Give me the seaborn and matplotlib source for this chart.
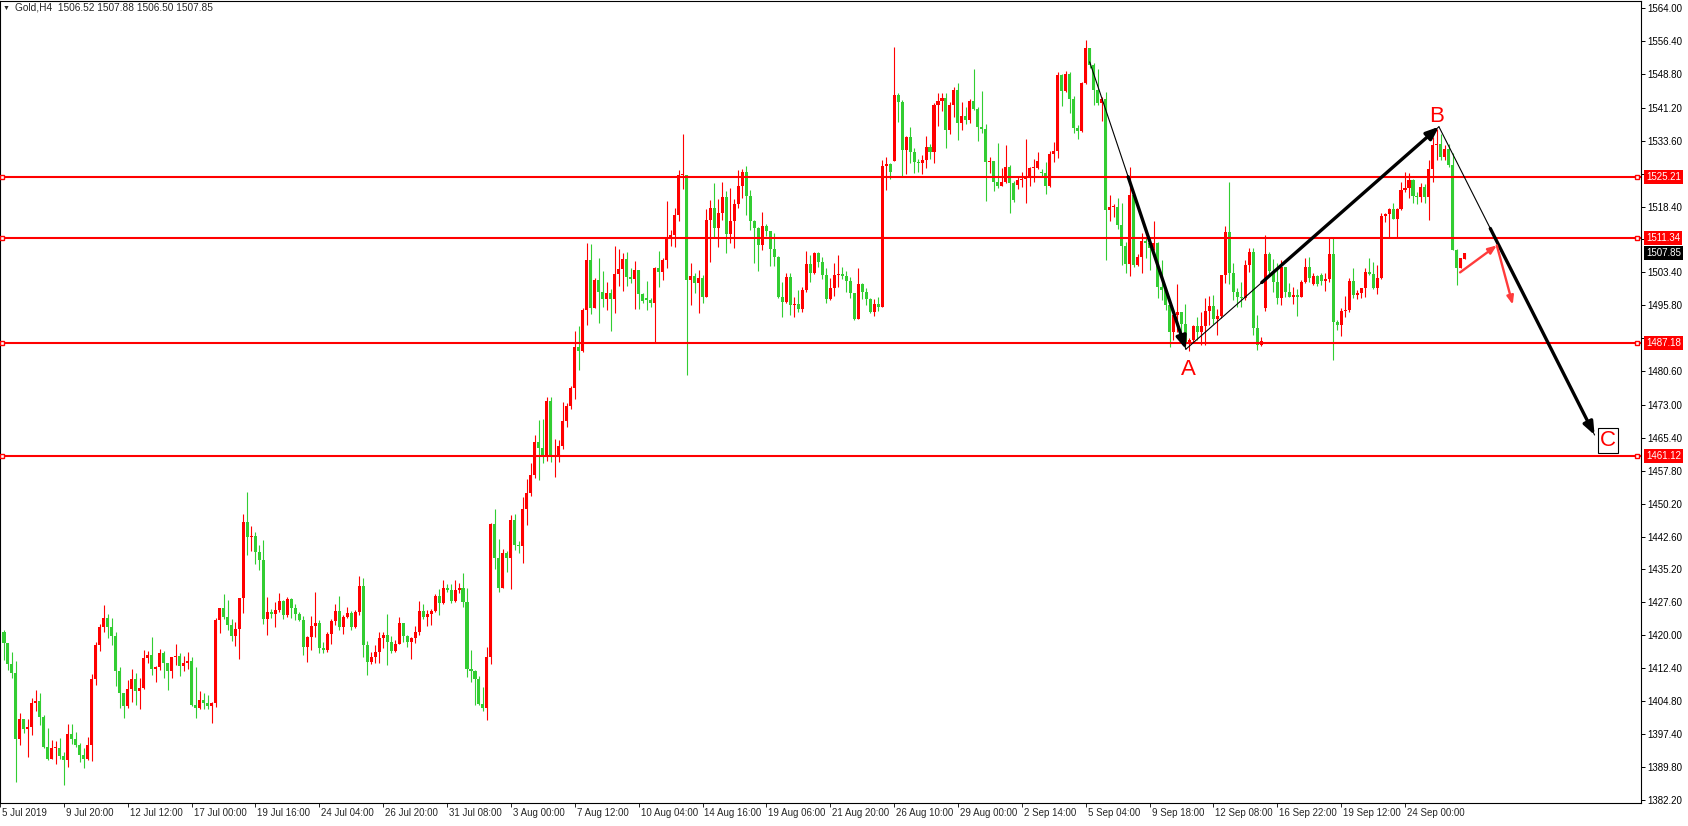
import numpy as np
import pandas as pd
import matplotlib
matplotlib.use("Agg")
import matplotlib.pyplot as plt
import matplotlib.transforms as mtrans
import seaborn as sns

sns.set_style("white")
plt.rcParams['font.family'] = ['Liberation Sans', 'DejaVu Sans']

# Gold H4 candles, oldest first
first_open = 1420.8
closes = [
    # 5 Jul - 12 Jul
    1418.15, 1413.4, 1411.4, 1396.2, 1400.8, 1398.5, 1399.0, 1404.5, 1404.9, 1401.3,
    1394.4, 1391.6, 1394.2, 1394.2, 1392.35, 1391.35, 1397.3, 1396.2, 1394.8, 1392.6,
    1391.6, 1394.8, 1410.0, 1417.8, 1422.0, 1423.9, 1422.0, 1419.8, 1411.9, 1406.7,
    1403.8, 1407.7, 1410.0, 1407.3, 1407.8,
    # 12 Jul - 19 Jul
    1414.7, 1415.5, 1412.2, 1412.8, 1416.0, 1413.6, 1411.9, 1414.9, 1415.2, 1413.0,
    1413.6, 1414.1, 1404.0, 1403.4, 1405.1, 1404.5, 1403.75, 1404.5, 1423.5, 1426.3,
    1424.3, 1422.4, 1419.9, 1421.4, 1428.5, 1446.1, 1442.65, 1442.8, 1439.2, 1437.3,
    1423.7, 1425.3, 1424.9,
    # 19 Jul - 26 Jul
    1425.8, 1427.9, 1424.7, 1428.3, 1426.2, 1424.9, 1423.5, 1417.4, 1419.7, 1422.1,
    1422.8, 1417.15, 1416.6, 1420.3, 1423.3, 1425.6, 1422.0, 1424.3, 1425.1, 1421.9,
    1425.3, 1431.3, 1417.8, 1413.9, 1414.9, 1416.1, 1419.3, 1420.0, 1418.5, 1416.4,
    1418.1, 1422.9,
    # 26 Jul - 3 Aug
    1419.8, 1418.5, 1419.4, 1420.8, 1425.5, 1424.2, 1424.9, 1425.6, 1429.0, 1427.5,
    1430.8, 1430.4, 1427.9, 1430.4, 1430.8, 1427.7, 1412.3, 1411.9, 1409.95, 1404.2,
    1403.2, 1415.1, 1445.5, 1437.8, 1430.9, 1439.0, 1437.8, 1446.4, 1440.7, 1440.6,
    1449.0, 1452.6, 1456.8,
    # 3 Aug - 10 Aug
    1464.5, 1463.1, 1461.0, 1473.8, 1461.0, 1461.4, 1463.5, 1469.2, 1472.7, 1476.9,
    1486.3, 1485.2, 1494.7, 1506.3, 1495.2, 1501.6, 1498.9, 1497.2, 1498.7, 1497.2,
    1503.0, 1504.1, 1506.4, 1502.2, 1501.8, 1503.9, 1498.3, 1496.8, 1497.0, 1496.4,
    1504.4, 1503.5,
    # 10 Aug - 19 Aug
    1506.2, 1511.55, 1511.9, 1516.5, 1525.7, 1525.7, 1501.6, 1502.5, 1500.8, 1502.0,
    1497.8, 1515.4, 1518.05, 1513.6, 1516.9, 1520.6, 1512.2, 1515.15, 1519.05, 1523.2,
    1526.35, 1520.95, 1515.2, 1513.6, 1509.6, 1514.0, 1512.85, 1508.7, 1506.95, 1497.8,
    1496.6, 1502.2, 1495.85,
    # 19 Aug - 26 Aug
    1496.1, 1494.9, 1499.3, 1505.3, 1503.3, 1507.9, 1505.8, 1502.7, 1497.15, 1499.8,
    1502.7, 1503.0, 1502.5, 1501.4, 1498.5, 1492.6, 1500.7, 1498.9, 1497.2, 1494.3,
    1496.1, 1495.5, 1527.8, 1528.2, 1526.5, 1544.1, 1542.5, 1531.45, 1534.5, 1530.9,
    1528.8, 1528.55,
    # 26 Aug - 2 Sep
    1529.2, 1532.1, 1531.1, 1541.9, 1542.7, 1543.5, 1536.0, 1541.8, 1545.2, 1537.7,
    1539.25, 1538.3, 1542.7, 1540.85, 1536.8, 1536.3, 1528.6, 1528.9, 1524.2, 1523.3,
    1524.2, 1527.6, 1523.95, 1520.0, 1524.6, 1524.8, 1525.3, 1527.25, 1527.25, 1528.9,
    1526.1, 1523.25, 1530.5,
    # 2 Sep - 9 Sep
    1531.2, 1548.7, 1545.0, 1548.8, 1543.1, 1536.6, 1535.9, 1546.8, 1554.8, 1551.0,
    1545.2, 1542.2, 1543.1, 1517.7, 1518.3, 1518.4, 1514.2, 1509.4, 1505.3, 1521.1,
    1505.0, 1506.8, 1510.5, 1510.0, 1508.9, 1510.0, 1500.0, 1499.3, 1495.8, 1489.7,
    1493.5,
    # 9 Sep - 17 Sep
    1494.3, 1491.5, 1487.4, 1487.8, 1491.0, 1489.7, 1491.0, 1494.5, 1495.6, 1492.7,
    1493.3, 1502.75, 1512.7, 1503.1, 1498.9, 1497.8, 1497.4, 1505.06, 1507.95, 1490.5,
    1486.7, 1487.66, 1507.5, 1503.7, 1501.2, 1497.4, 1504.66, 1498.9, 1497.8, 1498.2,
    1497.8, 1501.2, 1504.66, 1501.96,
    # 17 Sep - 26 Sep
    1502.5, 1500.6, 1501.4, 1501.75, 1507.6, 1492.0, 1491.3, 1494.5, 1494.7, 1501.4,
    1498.2, 1498.7, 1499.7, 1503.5, 1502.9, 1499.7, 1502.0, 1516.4, 1516.8, 1517.8,
    1515.6, 1517.9, 1522.3, 1522.65, 1524.6, 1520.96, 1520.7, 1523.0, 1520.7, 1527.1,
    1532.6, 1532.8, 1529.9, 1531.8, 1528.0, 1508.5, 1504.4, 1506.6, 1507.85,
]
highs = [
    1421.2, 1418.3, 1416.2, 1414.2, 1402.2, 1400.8, 1400.8, 1405.5, 1407.4, 1406.8,
    1401.7, 1398.8, 1395.9, 1395.8, 1396.5, 1393.3, 1399.6, 1399.6, 1397.9, 1395.2,
    1394.2, 1396.7, 1411.1, 1418.5, 1422.5, 1427.0, 1424.9, 1423.9, 1420.8, 1412.8,
    1406.8, 1409.7, 1412.2, 1411.3, 1410.2,
    1416.6, 1416.5, 1419.7, 1412.9, 1416.8, 1416.4, 1413.6, 1415.1, 1418.0, 1415.85,
    1415.3, 1416.1, 1414.9, 1412.8, 1407.2, 1406.8, 1406.3, 1404.6, 1424.0, 1426.3,
    1429.5, 1428.1, 1423.7, 1423.0, 1428.6, 1447.9, 1452.8, 1445.1, 1443.8, 1440.7,
    1441.9, 1428.7, 1426.0,
    1427.6, 1429.6, 1428.1, 1428.9, 1428.6, 1427.3, 1425.3, 1424.5, 1419.8, 1424.4,
    1429.9, 1423.5, 1418.4, 1420.7, 1423.7, 1427.2, 1429.0, 1424.7, 1426.6, 1425.6,
    1425.8, 1433.6, 1433.2, 1418.7, 1416.2, 1417.8, 1420.7, 1420.7, 1424.9, 1419.8,
    1418.9, 1424.2,
    1422.9, 1420.0, 1419.7, 1422.1, 1427.9, 1427.1, 1425.8, 1426.0, 1429.5, 1430.6,
    1432.8, 1431.7, 1431.8, 1432.7, 1431.9, 1434.4, 1430.8, 1416.6, 1412.0, 1410.6,
    1408.2, 1417.35, 1445.8, 1449.0, 1442.1, 1439.9, 1439.3, 1447.6, 1447.85, 1441.6,
    1451.8, 1455.8, 1459.5,
    1466.0, 1469.5, 1469.7, 1474.8, 1474.8, 1465.1, 1464.8, 1473.5, 1473.4, 1477.3,
    1489.9, 1491.0, 1495.1, 1510.2, 1509.9, 1502.0, 1506.7, 1503.7, 1501.1, 1499.5,
    1509.4, 1508.7, 1507.7, 1508.1, 1504.4, 1506.0, 1503.9, 1498.7, 1501.4, 1497.5,
    1504.7, 1508.3,
    1506.7, 1519.75, 1513.05, 1518.05, 1526.85, 1535.1, 1525.7, 1505.4, 1503.3, 1503.9,
    1502.7, 1517.9, 1519.95, 1523.8, 1520.2, 1524.1, 1522.0, 1522.65, 1520.2, 1526.85,
    1527.1, 1527.8, 1522.3, 1515.4, 1513.85, 1517.15, 1514.5, 1512.85, 1512.5, 1507.1,
    1501.05, 1503.1, 1503.1,
    1497.8, 1499.4, 1500.0, 1508.3, 1507.3, 1508.1, 1508.1, 1506.8, 1504.4, 1502.0,
    1505.6, 1507.3, 1504.5, 1503.7, 1502.2, 1498.7, 1504.4, 1500.8, 1499.7, 1497.5,
    1497.15, 1497.8, 1529.1, 1529.8, 1528.5, 1555.2, 1544.6, 1542.9, 1534.7, 1536.8,
    1532.0, 1529.3,
    1530.3, 1534.7, 1532.75, 1542.3, 1544.6, 1544.5, 1544.6, 1542.55, 1546.0, 1546.8,
    1542.55, 1541.4, 1543.1, 1550.1, 1541.4, 1545.0, 1537.35, 1529.9, 1528.9, 1533.1,
    1527.4, 1532.6, 1528.0, 1524.3, 1525.5, 1526.5, 1534.0, 1527.6, 1529.4, 1531.1,
    1527.1, 1528.8, 1531.3,
    1533.4, 1549.45, 1548.8, 1549.7, 1549.3, 1543.9, 1537.2, 1547.0, 1556.7, 1554.8,
    1551.4, 1550.0, 1543.7, 1544.8, 1521.1, 1519.0, 1520.35, 1519.35, 1510.4, 1527.5,
    1521.1, 1507.5, 1512.5, 1511.5, 1511.5, 1515.1, 1510.4, 1506.3, 1499.4, 1496.05,
    1493.9,
    1500.7, 1494.3, 1496.2, 1488.2, 1491.3, 1493.2, 1494.3, 1497.4, 1497.9, 1498.1,
    1494.85, 1502.75, 1514.0, 1524.2, 1505.4, 1499.7, 1501.2, 1506.2, 1508.9, 1508.9,
    1493.55, 1488.4, 1511.9, 1508.1, 1506.4, 1505.4, 1506.2, 1504.5, 1501.0, 1500.06,
    1499.45, 1501.6, 1506.6, 1506.95,
    1503.1, 1502.7, 1503.3, 1503.1, 1511.55, 1511.55, 1492.4, 1495.1, 1498.0, 1502.0,
    1504.3, 1499.3, 1499.8, 1504.3, 1506.7, 1505.8, 1505.0, 1516.9, 1516.9, 1518.1,
    1519.4, 1518.1, 1524.0, 1526.5, 1526.1, 1524.8, 1521.9, 1523.8, 1523.6, 1529.2,
    1534.5, 1536.3, 1535.1, 1532.6, 1532.8, 1530.7, 1508.7, 1506.7, 1507.88,
]
lows = [
    1414.3, 1412.0, 1410.1, 1386.4, 1394.8, 1397.5, 1392.1, 1397.1, 1402.5, 1399.4,
    1394.0, 1391.35, 1391.6, 1390.4, 1391.7, 1385.6, 1389.8, 1395.0, 1394.4, 1391.0,
    1389.6, 1391.35, 1391.2, 1408.6, 1416.5, 1420.8, 1419.3, 1417.8, 1408.4, 1403.4,
    1400.9, 1403.4, 1404.75, 1404.1, 1403.0,
    1407.65, 1413.7, 1410.9, 1409.3, 1412.0, 1410.3, 1407.4, 1410.3, 1413.2, 1410.7,
    1411.9, 1412.2, 1403.75, 1400.9, 1403.1, 1403.1, 1403.1, 1399.9, 1403.6, 1420.6,
    1423.7, 1421.2, 1418.7, 1417.5, 1414.5, 1425.2, 1438.4, 1439.4, 1436.4, 1435.0,
    1422.7, 1420.1, 1423.9,
    1422.0, 1425.3, 1423.7, 1424.3, 1424.0, 1423.5, 1423.35, 1415.5, 1413.9, 1416.6,
    1419.7, 1416.0, 1416.0, 1416.2, 1418.0, 1422.4, 1421.2, 1420.2, 1423.9, 1421.2,
    1421.6, 1424.7, 1415.1, 1410.9, 1413.3, 1413.55, 1413.7, 1417.0, 1413.2, 1415.85,
    1416.1, 1418.0,
    1418.5, 1417.4, 1414.5, 1418.3, 1420.0, 1423.7, 1422.1, 1422.35, 1425.3, 1424.6,
    1427.2, 1430.0, 1427.5, 1427.7, 1429.8, 1426.6, 1410.5, 1409.3, 1404.0, 1404.0,
    1402.7, 1400.5, 1413.4, 1435.2, 1430.0, 1430.8, 1434.6, 1430.6, 1439.6, 1439.0,
    1436.7, 1445.3, 1452.0,
    1456.1, 1455.7, 1459.6, 1460.1, 1459.9, 1456.4, 1459.9, 1462.7, 1467.9, 1472.0,
    1474.3, 1480.9, 1485.0, 1491.2, 1493.8, 1495.1, 1491.8, 1495.3, 1494.7, 1490.0,
    1494.1, 1500.2, 1499.1, 1500.3, 1501.0, 1494.9, 1494.9, 1496.4, 1494.6, 1495.5,
    1487.4, 1500.1,
    1501.6, 1504.4, 1509.4, 1509.25, 1515.15, 1522.5, 1479.8, 1495.85, 1498.7, 1494.1,
    1496.4, 1497.6, 1505.8, 1511.55, 1509.25, 1515.4, 1507.9, 1510.2, 1509.0, 1518.05,
    1520.5, 1516.5, 1513.05, 1505.6, 1503.7, 1508.6, 1511.8, 1504.9, 1504.9, 1497.4,
    1493.2, 1496.4, 1493.55,
    1493.0, 1494.3, 1494.3, 1498.9, 1501.2, 1503.0, 1504.7, 1501.75, 1496.4, 1497.0,
    1498.0, 1500.1, 1501.75, 1498.9, 1497.4, 1492.4, 1492.6, 1497.2, 1495.8, 1494.1,
    1493.4, 1494.55, 1495.5, 1522.3, 1524.8, 1529.0, 1537.95, 1525.2, 1525.9, 1528.5,
    1526.1, 1526.5,
    1525.9, 1527.4, 1529.4, 1528.4, 1537.0, 1540.5, 1532.0, 1535.1, 1539.1, 1533.75,
    1536.0, 1537.4, 1537.7, 1540.6, 1533.5, 1535.4, 1519.8, 1526.2, 1522.0, 1522.8,
    1523.2, 1523.8, 1516.9, 1519.6, 1522.6, 1523.0, 1519.35, 1523.3, 1524.2, 1527.1,
    1525.3, 1521.3, 1523.0,
    1528.8, 1529.7, 1541.6, 1544.7, 1540.0, 1535.3, 1533.9, 1535.7, 1546.6, 1550.4,
    1541.8, 1541.8, 1538.2, 1506.3, 1515.2, 1516.1, 1513.2, 1505.0, 1503.3, 1502.6,
    1504.5, 1504.8, 1503.1, 1506.6, 1504.0, 1508.6, 1497.4, 1497.0, 1494.7, 1486.1,
    1487.8,
    1489.7, 1489.3, 1486.3, 1485.4, 1487.2, 1487.8, 1486.7, 1486.7, 1491.3, 1491.5,
    1488.96, 1492.8, 1500.8, 1500.7, 1497.0, 1495.5, 1495.5, 1497.0, 1503.35, 1489.0,
    1485.5, 1486.4, 1494.55, 1502.6, 1498.9, 1496.1, 1495.85, 1497.8, 1497.6, 1496.2,
    1493.3, 1497.6, 1500.8, 1501.05,
    1500.4, 1500.3, 1500.4, 1499.15, 1501.2, 1483.2, 1490.1, 1488.8, 1493.2, 1494.3,
    1497.4, 1497.2, 1497.4, 1497.8, 1502.7, 1499.5, 1498.4, 1501.8, 1515.0, 1511.2,
    1515.6, 1511.55, 1517.7, 1521.9, 1520.35, 1519.2, 1518.97, 1519.6, 1519.2, 1515.4,
    1524.2, 1529.2, 1529.2, 1529.2, 1527.6, 1508.5, 1500.45, 1504.3, 1506.5,
]
# bars whose open is not the previous close (bar index -> open)
gap_opens = {161: 1497.5, 223: 1529.0, 254: 1523.4, 260: 1526.4, 316: 1495.1,
             328: 1500.7, 330: 1502.7, 366: 1506.52}

levels = [1525.21, 1511.34, 1487.18, 1461.12]
last_price = 1507.85
header = "Gold,H4  1506.52 1507.88 1506.50 1507.85"

# scale ticks; the ones under the level tags carry no visible label
ytick_values = [1564.00, 1556.40, 1548.80, 1541.20, 1533.60, 1526.00, 1518.40,
                1511.00, 1503.40, 1495.80, 1488.20, 1480.60, 1473.00, 1465.40,
                1457.80, 1450.20, 1442.60, 1435.20, 1427.60, 1420.00, 1412.40,
                1404.80, 1397.40, 1389.80, 1382.20]
ytick_hidden = [1526.00, 1511.00, 1488.20]
xtick_labels = ["5 Jul 2019", "9 Jul 20:00", "12 Jul 12:00", "17 Jul 00:00",
                "19 Jul 16:00", "24 Jul 04:00", "26 Jul 20:00", "31 Jul 08:00",
                "3 Aug 00:00", "7 Aug 12:00", "10 Aug 04:00", "14 Aug 16:00",
                "19 Aug 06:00", "21 Aug 20:00", "26 Aug 10:00", "29 Aug 00:00",
                "2 Sep 14:00", "5 Sep 04:00", "9 Sep 18:00", "12 Sep 08:00",
                "16 Sep 22:00", "19 Sep 12:00", "24 Sep 00:00"]

# ABC wave drawn on the chart (bar index, price)
wave_P = (272.0, 1551.7)
wave_A = (296.1, 1485.7)
wave_B = (359.5, 1536.8)
wave_C = (398.5, 1466.0)
red_path = [(364.8, 1503.35), (374.0, 1509.55), (378.0, 1495.95)]
label_pos = {"A": (296.75, 1481.15), "B": (358.95, 1539.1), "C": (401.9, 1464.7)}

assert len(closes) == len(highs) == len(lows)

df = pd.DataFrame({"close": closes, "high": highs, "low": lows})
df["open"] = df["close"].shift(1).fillna(first_open)
for i, o in gap_opens.items():
    df.loc[i, "open"] = o
df["up"] = df["close"] >= df["open"]

RED = "#FF0000"
GREEN = "#32CD32"

fig = plt.figure(figsize=(16.88, 8.26), dpi=100)
ax = fig.add_axes([0, 23 / 826, 1641 / 1688, 802 / 826])

x = np.arange(len(df))
colors = np.where(df["up"], RED, GREEN)
ax.vlines(x, df["low"], df["high"], colors=colors, lw=0.8, zorder=2)
body_lo = np.minimum(df["open"], df["close"])
body_h = np.maximum((df["close"] - df["open"]).abs(), 0.22)
ax.bar(x, body_h, bottom=body_lo, width=0.76, color=colors, linewidth=0, zorder=2)

trans_y = mtrans.blended_transform_factory(ax.transAxes, ax.transData)
trans_x = mtrans.blended_transform_factory(ax.transData, ax.transAxes)

# support / resistance lines
for lv in levels:
    ax.axhline(lv, color=RED, lw=1.5, zorder=3)
    ax.plot([0.0015, 0.9976], [lv, lv], ls="none", marker="s", ms=3.5, mfc="white",
            mec=RED, mew=1, transform=trans_y, clip_on=False, zorder=4)
    ax.text(1.0031, lv, f"{lv:.2f}", transform=trans_y, ha="left", va="center",
            color="white", fontsize=7, zorder=10,
            bbox=dict(boxstyle="square,pad=0.2", fc=RED, ec="none"))
ax.text(1.0031, last_price, f"{last_price:.2f}", transform=trans_y, ha="left",
        va="center", color="white", fontsize=7, zorder=10,
        bbox=dict(boxstyle="square,pad=0.2", fc="black", ec="none"))


def along(p, q, t):
    return (p[0] + (q[0] - p[0]) * t, p[1] + (q[1] - p[1]) * t)


thick = dict(arrowstyle="-|>,head_length=0.75,head_width=0.3", color="black",
             lw=2.4, shrinkA=0, shrinkB=0)
for p, q, t in [(wave_P, wave_A, 0.4), (wave_A, wave_B, 0.3), (wave_B, wave_C, 0.33)]:
    ax.plot([p[0], q[0]], [p[1], q[1]], color="black", lw=0.8, zorder=5)
    ax.annotate("", xy=q, xytext=along(p, q, t), arrowprops=thick, zorder=6)

thin_red = dict(arrowstyle="-|>,head_length=0.5,head_width=0.2", color="#FF3B3B",
                lw=1.7, shrinkA=0, shrinkB=0)
for p, q in zip(red_path[:-1], red_path[1:]):
    ax.annotate("", xy=q, xytext=p, arrowprops=thin_red, zorder=6)

for name, (lx, ly) in label_pos.items():
    box = None
    if name == "C":
        box = dict(boxstyle="square,pad=0.1", fc="white", ec="black", lw=0.8)
    ax.text(lx, ly, name, color=RED, fontsize=16, ha="center", va="center",
            bbox=box, zorder=7)

# axes
ax.set_xlim(-0.125, 410.125)
ax.set_ylim(1381.48, 1565.68)
ax.yaxis.tick_right()
ax.set_yticks(ytick_values)
ax.set_yticklabels(["" if v in ytick_hidden else f"{v:.2f}" for v in ytick_values])
ax.tick_params(axis="y", direction="out", length=3, width=0.7, pad=1.5,
               labelsize=7, colors="black", right=True, left=False)
xtick_bars = np.arange(len(xtick_labels)) * 16 - 1
ax.set_xticks(xtick_bars)
ax.set_xticklabels([])
ax.tick_params(axis="x", direction="out", length=3, width=0.7, bottom=True)
for b, lab in zip(xtick_bars, xtick_labels):
    ax.text(b + 0.5, -0.0121, lab, transform=trans_x, ha="left", va="center",
            fontsize=7, clip_on=False)
for s in ax.spines.values():
    s.set_color("black")
    s.set_linewidth(0.8)

fig.text(3 / 1688, 1 - 8 / 826, "\u25bc", fontsize=5, va="center", ha="left")
fig.text(15 / 1688, 1 - 8 / 826, header, fontsize=7.3, va="center", ha="left")

fig.savefig("out.png", dpi=100)
